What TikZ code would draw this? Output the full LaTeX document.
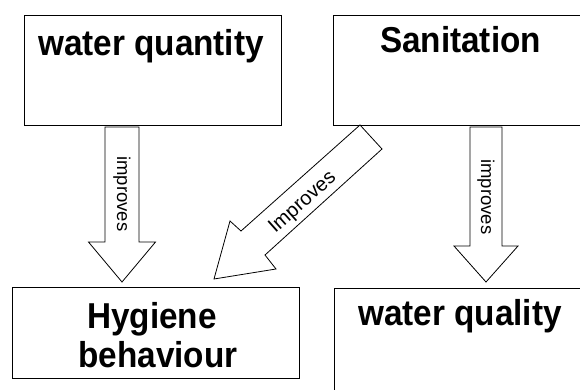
\documentclass[tikz,border=0pt]{standalone}
\usepackage{fontspec}
\setmainfont{Liberation Sans}
\newfontfamily\titlefont{Liberation Sans}[FakeStretch=0.925]
\begin{document}
\begin{tikzpicture}[x=1pt,y=-1pt,
  box/.style={draw=black, line width=0.9pt, fill=white, inner sep=0pt, anchor=north west},
  title/.style={font=\titlefont\fontsize{36}{39}\selectfont\bfseries, inner sep=0pt, align=center},
  blockarrow/.style={draw=black, line width=0.8pt, fill=white, line join=miter},
  arrowtext/.style={font=\fontsize{18.5}{20}\selectfont, inner sep=0pt}]
\useasboundingbox (0,0) rectangle (580,390);
\begin{scope}
\clip (0,0) rectangle (580,390);
% boxes
\node[box, minimum width=257pt, minimum height=110pt] (wqn) at (24,15) {};
\node[box, minimum width=254pt, minimum height=110pt] (san) at (333,15) {};
\node[box, minimum width=287pt, minimum height=91pt] (hyg) at (12,287) {};
\node[box, minimum width=253pt, minimum height=115pt] (wql) at (334,288) {};
% titles
\node[title, anchor=base] (wqnt) at (151,55.5) {water quantity};
\node[title, anchor=base] (sant) at (460.5,52.5) {Sanitation};
\node[title, anchor=base] (wqlt) at (460,325) {water quality};
\node[title, anchor=base] (hygt1) at (152,328) {Hygiene};
\node[title, anchor=base] (hygt2) at (158,367) {behaviour};
% block arrows
\draw[blockarrow] (105,127) -- (139,127) -- (139,242) -- (155.5,242) -- (122,282)
  -- (88.5,242) -- (105,242) -- cycle;
\draw[blockarrow] (470,127) -- (502,127) -- (502,246) -- (518,246) -- (486,282)
  -- (454,246) -- (470,246) -- cycle;
\draw[blockarrow] (360,125) -- (382,149) -- (265,255) -- (276,269) -- (214,279)
  -- (230,221) -- (241,231) -- cycle;
% arrow labels
\node[arrowtext, rotate=-90] (l1) at (122,194) {improves};
\node[arrowtext, rotate=-90] (l3) at (486,197) {improves};
\node[arrowtext, font=\fontsize{20}{22}\selectfont, rotate=41.7] (l2) at (303,203) {Improves};
\end{scope}
\end{tikzpicture}
\end{document}
